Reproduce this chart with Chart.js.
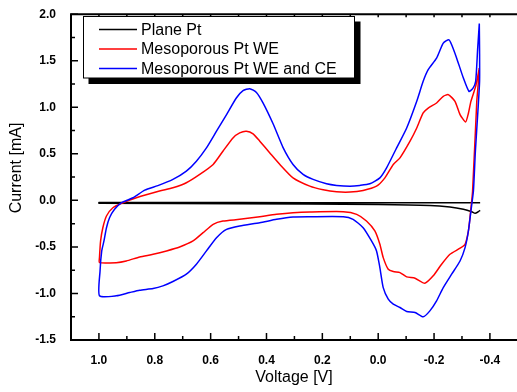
<!DOCTYPE html>
<html>
<head>
<meta charset="utf-8">
<script src="https://cdn.jsdelivr.net/npm/chart.js@4.4.1/dist/chart.umd.min.js"></script>
<style>
  html, body { margin: 0; padding: 0; background: #fff; overflow: hidden; }
  #chart { display: block; }
</style>
</head>
<body>
<canvas id="chart" width="517" height="392"></canvas>
<script>
// Plane Pt (voltage [V], current [mA])
const planeV = [-0.365, -0.357, -0.347, -0.335, -0.305, -0.257, -0.185, 0.0, 0.5, 1.0, 1.0, 0.5, 0.0, -0.365];
const planeI = [-0.107, -0.125, -0.139, -0.122, -0.096, -0.072, -0.055, -0.045, -0.035, -0.030, -0.024, -0.024, -0.025, -0.026];

// Mesoporous Pt WE
const weV = [-0.362, -0.349, -0.332, -0.323, -0.313, -0.293, -0.275, -0.251, -0.233, -0.209, -0.179, -0.161, -0.138, -0.114, -0.078,
  -0.054, -0.024, 0.006, 0.054, 0.101, 0.149, 0.197, 0.245, 0.305, 0.352, 0.388, 0.424, 0.448, 0.472, 0.496, 0.520, 0.556, 0.591,
  0.639, 0.687, 0.735, 0.783, 0.866, 0.914, 0.950, 0.973, 0.986, 0.994, 0.998, 0.998,
  0.938, 0.902, 0.854, 0.806, 0.758, 0.711, 0.663, 0.627, 0.591, 0.556, 0.496, 0.424, 0.364, 0.305, 0.245, 0.125, 0.077, 0.042,
  0.012, -0.006, -0.018, -0.036, -0.054, -0.078, -0.102, -0.132, -0.167, -0.197, -0.227, -0.257, -0.293, -0.311, -0.323, -0.331,
  -0.338, -0.353, -0.359, -0.362];
const weI = [1.421, 1.225, 1.064, 0.936, 0.842, 0.922, 1.064, 1.136, 1.118, 1.046, 0.992, 0.939, 0.778, 0.636, 0.457,
  0.386, 0.242, 0.153, 0.107, 0.089, 0.092, 0.114, 0.153, 0.242, 0.386, 0.510, 0.636, 0.715, 0.743, 0.725, 0.671, 0.528, 0.386,
  0.279, 0.189, 0.135, 0.100, 0.028, -0.026, -0.079, -0.168, -0.294, -0.436, -0.615, -0.669,
  -0.669, -0.651, -0.608, -0.579, -0.543, -0.501, -0.436, -0.347, -0.257, -0.222, -0.204, -0.175, -0.150, -0.133, -0.125, -0.122, -0.150, -0.222,
  -0.329, -0.472, -0.615, -0.740, -0.765, -0.776, -0.822, -0.836, -0.890, -0.811, -0.686, -0.579, -0.514, -0.472, -0.329, -0.115,
  0.100, 1.064, 1.279, 1.421];

// Mesoporous Pt WE and CE
const weCeV = [-0.362, -0.356, -0.349, -0.339, -0.325, -0.305, -0.281, -0.263, -0.253, -0.233, -0.209, -0.179, -0.161, -0.138, -0.102,
  -0.066, -0.030, -0.006, 0.030, 0.066, 0.101, 0.149, 0.185, 0.233, 0.269, 0.305, 0.341, 0.376, 0.412, 0.436, 0.460, 0.484, 0.508,
  0.543, 0.579, 0.615, 0.651, 0.687, 0.735, 0.789, 0.836, 0.878, 0.920, 0.944, 0.962, 0.973, 0.982, 0.990, 0.996, 0.998,
  0.938, 0.890, 0.854, 0.806, 0.771, 0.735, 0.687, 0.651, 0.615, 0.579, 0.543, 0.496, 0.424, 0.364, 0.305, 0.245, 0.125, 0.090,
  0.054, 0.024, 0.006, -0.006, -0.018, -0.036, -0.054, -0.078, -0.102, -0.132, -0.161, -0.185, -0.209, -0.233, -0.263, -0.293,
  -0.311, -0.323, -0.335, -0.341, -0.348, -0.357, -0.363, -0.363, -0.362];
const weCeI = [1.900, 1.622, 1.279, 1.204, 1.171, 1.314, 1.528, 1.672, 1.726, 1.689, 1.528, 1.404, 1.279, 1.065, 0.778,
  0.564, 0.349, 0.242, 0.178, 0.161, 0.153, 0.161, 0.178, 0.225, 0.279, 0.386, 0.570, 0.820, 1.045, 1.160, 1.200, 1.179, 1.100,
  0.922, 0.743, 0.564, 0.421, 0.314, 0.225, 0.158, 0.110, 0.028, -0.026, -0.096, -0.186, -0.294, -0.436, -0.543, -0.758, -1.025,
  -1.025, -0.990, -0.965, -0.947, -0.919, -0.872, -0.793, -0.686, -0.543, -0.401, -0.311, -0.275, -0.240, -0.204, -0.179, -0.176, -0.176, -0.204,
  -0.294, -0.436, -0.543, -0.722, -0.937, -1.061, -1.115, -1.151, -1.194, -1.205, -1.251, -1.187, -1.079, -0.937, -0.793, -0.651,
  -0.508, -0.329, -0.043, 0.100, 0.528, 0.957, 1.279, 1.600, 1.900];

const seriesNames = ["Plane Pt", "Mesoporous Pt WE", "Mesoporous Pt WE and CE"];
const seriesColors = ["#000000", "#ff0000", "#0000ff"];
const xTicks = [-0.4, -0.2, 0.0, 0.2, 0.4, 0.6, 0.8, 1.0];
const yTicks = [-1.5, -1.0, -0.5, 0.0, 0.5, 1.0, 1.5, 2.0];

const FONT = "'Liberation Sans', Arial, sans-serif";

function pontos(vs, is) {
  return vs.map((v, k) => ({ x: v, y: is[k] }));
}

// frame, inward ticks, legend box and axis titles
const moldura = {
  id: "moldura",
  afterDraw(c) {
    const { ctx, chartArea: a, scales: { x, y } } = c;
    ctx.save();
    ctx.strokeStyle = "#000";

    // ticks
    ctx.lineWidth = 1.5;
    ctx.beginPath();
    for (let k = -5; k <= 10; k++) {
      const px = x.getPixelForValue(k / 10);
      if (px < a.left || px > a.right) continue;
      const len = k % 2 === 0 ? 7 : 4;
      ctx.moveTo(px, a.bottom); ctx.lineTo(px, a.bottom - len);
      ctx.moveTo(px, a.top); ctx.lineTo(px, a.top + 3);
    }
    for (let k = -6; k <= 8; k++) {
      const py = y.getPixelForValue(k / 4);
      const len = k % 2 === 0 ? 7 : 4;
      ctx.moveTo(a.left, py); ctx.lineTo(a.left + len, py);
    }
    ctx.stroke();

    // frame (right side is outside the picture)
    ctx.lineWidth = 2;
    ctx.beginPath();
    ctx.moveTo(a.right, a.top);
    ctx.lineTo(a.left, a.top);
    ctx.lineTo(a.left, a.bottom);
    ctx.lineTo(a.right, a.bottom);
    ctx.stroke();

    // legend with shadow
    const lx = 83.5, ly = 16.5, lw = 271, lh = 61.5;
    ctx.fillStyle = "#000";
    ctx.fillRect(lx + 5, ly + 5, lw + 1, lh + 1);
    ctx.fillStyle = "#fff";
    ctx.fillRect(lx, ly, lw, lh);
    ctx.lineWidth = 1;
    ctx.strokeRect(lx, ly, lw, lh);
    ctx.font = "16px " + FONT;
    ctx.textBaseline = "middle";
    ctx.textAlign = "left";
    const rows = [29.5, 49, 68.5];
    seriesNames.forEach((nome, k) => {
      ctx.strokeStyle = seriesColors[k];
      ctx.lineWidth = 1.5;
      ctx.beginPath();
      ctx.moveTo(99, rows[k]); ctx.lineTo(137, rows[k]);
      ctx.stroke();
      ctx.fillStyle = "#000";
      ctx.fillText(nome, 141, rows[k] + 1);
    });

    // axis titles
    ctx.textAlign = "center";
    ctx.fillText("Voltage [V]", 294, 378);
    ctx.translate(16.5, 168);
    ctx.rotate(-Math.PI / 2);
    ctx.fillText("Current [mA]", 0, 0);
    ctx.restore();
  }
};

const tickFont = { family: FONT, size: 12, weight: "bold" };

new Chart(document.getElementById("chart"), {
  type: "scatter",
  data: {
    datasets: [
      { label: seriesNames[0], data: pontos(planeV, planeI), borderColor: seriesColors[0], showLine: true, order: 3 },
      { label: seriesNames[1], data: pontos(weV, weI), borderColor: seriesColors[1], showLine: true, order: 2 },
      { label: seriesNames[2], data: pontos(weCeV, weCeI), borderColor: seriesColors[2], showLine: true, order: 1 }
    ]
  },
  options: {
    responsive: false,
    animation: false,
    layout: { padding: { top: 13, left: 0, right: 0, bottom: 0 } },
    elements: {
      point: { radius: 0, hoverRadius: 0 },
      line: { borderWidth: 1.5, tension: 0.2, fill: false }
    },
    plugins: { legend: { display: false }, tooltip: { enabled: false } },
    scales: {
      x: {
        type: "linear",
        reverse: true,
        min: -0.497,
        max: 1.1,
        grid: { display: false },
        border: { display: false },
        afterBuildTicks: s => { s.ticks = xTicks.map(v => ({ value: v })); },
        afterFit: s => { s.height = 52; },
        ticks: { padding: 5, color: "#000", font: tickFont, maxRotation: 0, autoSkip: false, callback: v => v.toFixed(1) }
      },
      y: {
        type: "linear",
        min: -1.5,
        max: 2.0,
        grid: { display: false },
        border: { display: false },
        afterBuildTicks: s => { s.ticks = yTicks.map(v => ({ value: v })); },
        afterFit: s => { s.width = 71; },
        ticks: { padding: 7, color: "#000", font: tickFont, autoSkip: false, callback: v => v.toFixed(1) }
      }
    }
  },
  plugins: [moldura]
});
</script>
</body>
</html>
